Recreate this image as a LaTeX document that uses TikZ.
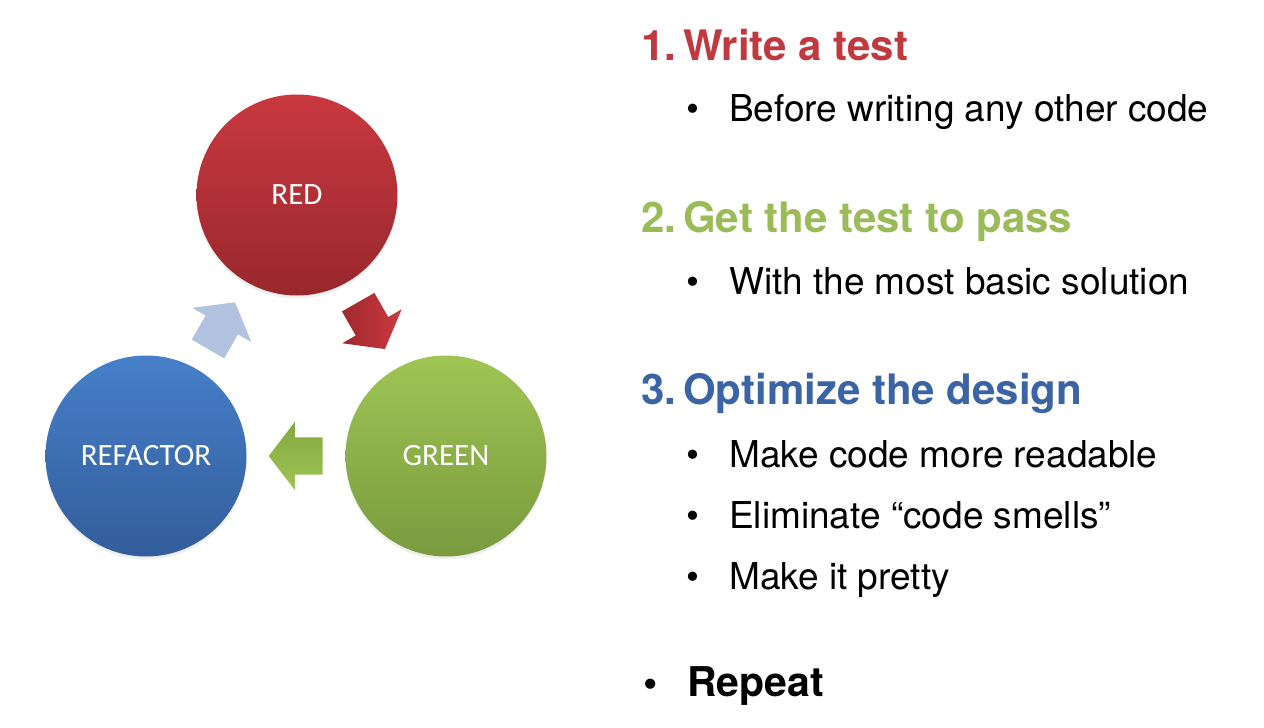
\documentclass[tikz,border=0pt]{standalone}
\usepackage{fontspec}
\setmainfont{TeX Gyre Heros}
\newfontfamily\calibfont{Carlito}
\usetikzlibrary{shapes.arrows, shadows}

\definecolor{tddred}{RGB}{192,57,63}
\definecolor{tddgreen}{RGB}{155,187,89}
\definecolor{tddblue}{RGB}{58,100,164}

\newcommand{\itemdot}[2][43pt]{\makebox[#1][l]{\textbullet}#2}
\newcommand{\stepno}[2]{#1.\hspace{7pt}#2}

\begin{document}
\begin{tikzpicture}[
        x=1pt, y=-1pt,
        % the three phases of the cycle
        phase/.style={circle, minimum size=201pt, inner sep=0pt, text=white,
            font=\calibfont\fontsize{31}{37}\selectfont,
            drop shadow={shadow xshift=0pt, shadow yshift=-3pt, opacity=0.12}},
        % block arrow that sits between two phases
        cyclearrow/.style={single arrow, minimum height=54pt,
            text height=18.5pt, text depth=18.5pt, text width=0pt,
            single arrow head extend=15.5pt, single arrow tip angle=105,
            inner sep=0pt, sloped, allow upside down, anchor=tail, pos=0.227},
        % text on the right
        heading/.style={anchor=base west, inner sep=0pt,
            font=\bfseries\fontsize{42}{50}\selectfont},
        bulletline/.style={anchor=base west, inner sep=0pt,
            font=\fontsize{37}{44}\selectfont}
    ]
    \useasboundingbox[fill=white] (0,0) rectangle (1264,728);

    % cycle
    \node[phase, top color={rgb,255:red,201;green,56;blue,63},
        bottom color={rgb,255:red,152;green,40;blue,45}] (red) at (297,195) {RED};
    \node[phase, top color={rgb,255:red,159;green,197;blue,84},
        bottom color={rgb,255:red,121;green,154;blue,62}] (green) at (446,456) {GREEN};
    \node[phase, top color={rgb,255:red,70;green,127;blue,201},
        bottom color={rgb,255:red,51;green,93;blue,155}] (refactor) at (146,456) {REFACTOR};

    \path (red) -- (green)
        node[cyclearrow, left color={rgb,255:red,160;green,40;blue,46},
            right color={rgb,255:red,202;green,58;blue,64}] (redtogreen) {};
    \path (green) -- (refactor)
        node[cyclearrow, top color={rgb,255:red,132;green,168;blue,62},
            bottom color={rgb,255:red,158;green,196;blue,84}] (greentorefactor) {};
    \path (refactor) -- (red)
        node[cyclearrow, fill={rgb,255:red,177;green,195;blue,222}] (refactortored) {};

    % steps
    \node[heading, text=tddred] (write) at (641,60) {\stepno{1}{Write a test}};
    \node[bulletline] (before) at (686,121) {\itemdot{Before writing any other code}};

    \node[heading, text=tddgreen] (pass) at (641,232) {\stepno{2}{Get the test to pass}};
    \node[bulletline] (basic) at (686,294) {\itemdot{With the most basic solution}};

    \node[heading, text=tddblue] (optimize) at (641,404) {\stepno{3}{Optimize the design}};
    \node[bulletline] (readable) at (686,467) {\itemdot{Make code more readable}};
    \node[bulletline] (smells) at (686,528) {\itemdot{Eliminate “code smells”}};
    \node[bulletline] (pretty) at (686,589) {\itemdot{Make it pretty}};

    \node[heading, font=\bfseries\fontsize{41}{49}\selectfont] (repeat) at (643,696)
        {\itemdot[44pt]{Repeat}};
\end{tikzpicture}
\end{document}
